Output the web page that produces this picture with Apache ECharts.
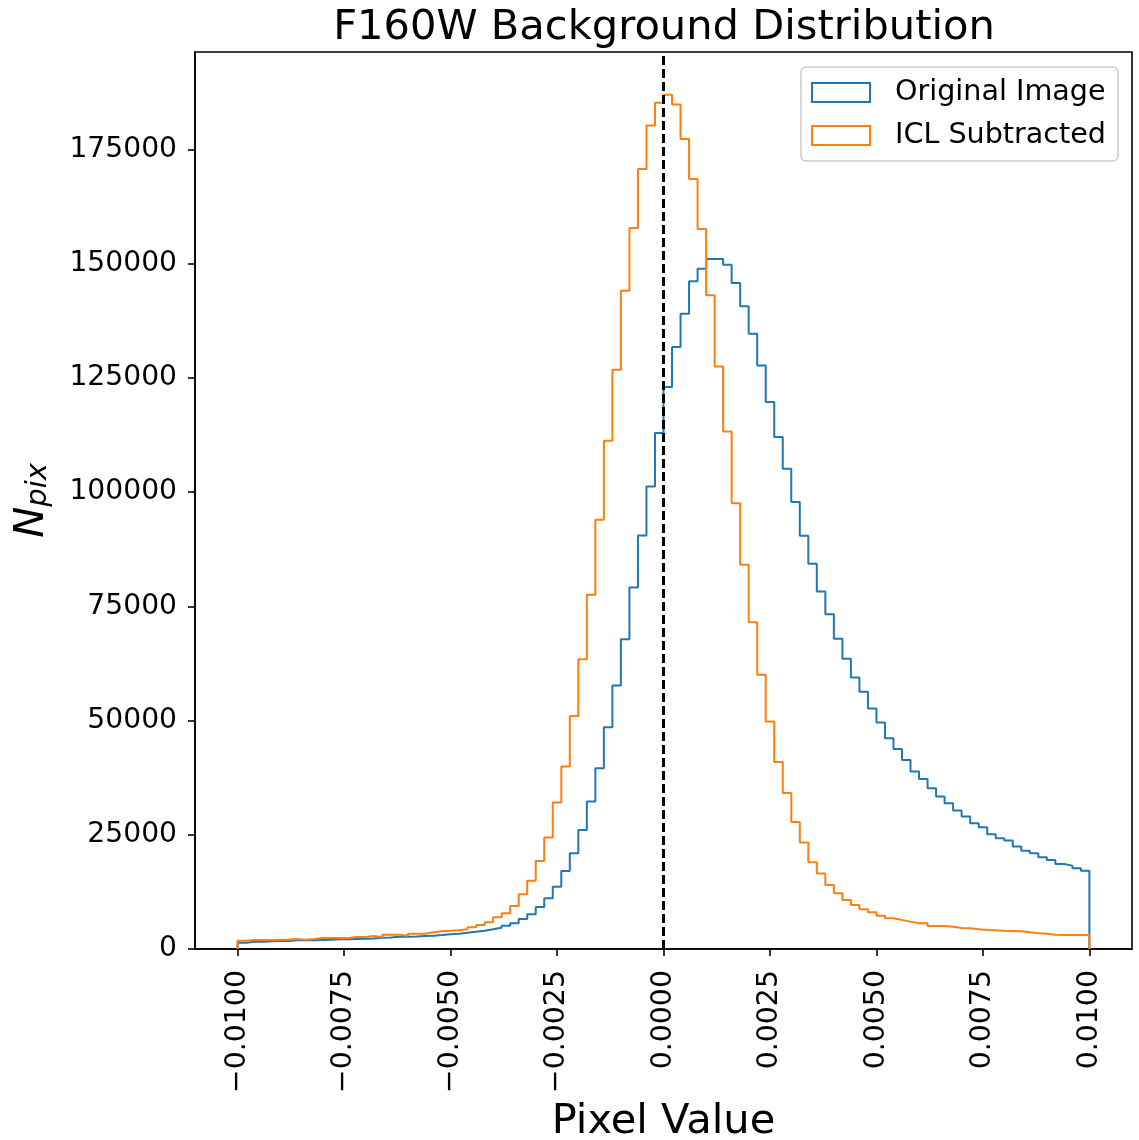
<!DOCTYPE html>
<html>
<head>
<meta charset="utf-8">
<script src="https://cdn.jsdelivr.net/npm/echarts@6/dist/echarts.min.js"></script>
<style>
  html, body { margin: 0; padding: 0; background: #ffffff; overflow: hidden; }
  #chart { width: 1139px; height: 1140px; }
</style>
</head>
<body>
<div id="chart"></div>
<script>
// Histogram binning: 100 bins of width 0.0002 spanning [-0.01, 0.01]
const binStart = -0.01;
const binWidth = 0.0002;

// Pixel counts per bin, original F160W image
const originalCounts = [
  1390, 1610, 1610, 1680, 1750, 1750, 1900, 1900, 1900, 1970,
  2000, 2120, 2120, 2200, 2260, 2300, 2480, 2500, 2700, 2700,
  2760, 2850, 2920, 3050, 3210, 3360, 3580, 3800, 4010, 4310,
  4670, 5110, 5620, 6570, 7590, 9200, 11100, 13650, 17080, 20950,
  26060, 32270, 39570, 48550, 57670, 67820, 79130, 90520, 101250, 112940,
  123010, 131780, 139070, 146150, 148930, 151050, 151050, 149800, 145790, 140680,
  134690, 127750, 119730, 112060, 105120, 97830, 90450, 84320, 78250, 73300,
  67890, 63510, 59420, 56290, 52630, 49560, 46140, 43800, 41390, 38830,
  37230, 35190, 33360, 31900, 30290, 28980, 27520, 26650, 25110, 24240,
  23730, 22410, 21530, 20950, 20080, 19490, 18620, 18250, 17670, 17150
];

// Pixel counts per bin after ICL subtraction
const iclSubtractedCounts = [
  1820, 1970, 1970, 1990, 2000, 2000, 2190, 2000, 2190, 2410,
  2410, 2410, 2410, 2630, 2630, 2850, 2630, 3140, 3140, 2920,
  3360, 3360, 3650, 3870, 4000, 4090, 4310, 4750, 5260, 5840,
  6940, 7810, 9420, 11970, 14960, 19270, 24380, 32050, 39930, 51030,
  63440, 77530, 93960, 111260, 126800, 144100, 157840, 170760, 180240, 185220,
  187000, 184840, 177330, 168570, 157620, 143080, 127530, 113300, 97600, 84100,
  71550, 60010, 49780, 40950, 34160, 27810, 23290, 18980, 16500, 14020,
  12190, 10730, 9640, 8690, 8030, 7300, 6720, 6350, 5990, 5620,
  5620, 5040, 5040, 4890, 4600, 4530, 4310, 4160, 4090, 4010,
  3940, 3870, 3650, 3430, 3360, 3140, 3070, 3070, 3070, 3070
];

const seriesNames = ['Original Image', 'ICL Subtracted'];
const xTickValues = [-0.01, -0.0075, -0.005, -0.0025, 0, 0.0025, 0.005, 0.0075, 0.01];
const yTickValues = [0, 25000, 50000, 75000, 100000, 125000, 150000, 175000];
const zeroLevel = 0;

const FONT = 'DejaVu Sans';
const BLUE = '#1f77b4';
const ORANGE = '#ff7f0e';

// Closed step outline of a histogram: rises from zero at the first edge,
// holds each count across its bin, falls to zero at the last edge.
function stepOutline(counts) {
  const pts = [[binStart, 0]];
  counts.forEach((c, i) => pts.push([binStart + i * binWidth, c]));
  pts.push([binStart + counts.length * binWidth, 0]);
  return pts;
}

const allCounts = originalCounts.concat(iclSubtractedCounts);
const yMax = Math.max(...allCounts) * 1.05;
const xPad = (binWidth * originalCounts.length) * 0.05;
const xMin = binStart - xPad;
const xMax = binStart + binWidth * originalCounts.length + xPad;

const fmtX = v => (v < 0 ? '\u2212' : '') + Math.abs(v).toFixed(4);

const chart = echarts.init(document.getElementById('chart'), null, { renderer: 'canvas' });

chart.setOption({
  animation: false,
  backgroundColor: '#ffffff',
  title: {
    text: 'F160W Background Distribution',
    left: 659,
    textAlign: 'center',
    top: 2,
    textStyle: { fontFamily: FONT, fontSize: 41.6, fontWeight: 'normal', color: '#000000' }
  },
  legend: {
    left: 801,
    top: 67,
    orient: 'vertical',
    padding: [11, 12, 11, 10],
    itemGap: 14,
    itemWidth: 58,
    itemHeight: 19,
    backgroundColor: 'rgba(255,255,255,0.8)',
    borderColor: '#cccccc',
    borderWidth: 1.5,
    borderRadius: 5,
    selectedMode: false,
    textStyle: { fontFamily: FONT, fontSize: 28.6, color: '#000000', padding: [0, 0, 0, 20] },
    data: [
      { name: seriesNames[0], icon: 'rect', itemStyle: { color: '#ffffff', borderColor: BLUE, borderWidth: 2 } },
      { name: seriesNames[1], icon: 'rect', itemStyle: { color: '#ffffff', borderColor: ORANGE, borderWidth: 2 } }
    ]
  },
  grid: {
    left: 195,
    right: 7,
    top: 52,
    bottom: 191,
    show: true,
    borderColor: '#000000',
    borderWidth: 1.6,
    containLabel: false,
    outerBoundsMode: 'none'
  },
  xAxis: {
    type: 'value',
    min: xMin,
    max: xMax,
    name: 'Pixel Value',
    nameLocation: 'middle',
    nameGap: 147,
    nameTextStyle: { fontFamily: FONT, fontSize: 41.6, color: '#000000' },
    axisLine: { show: true, onZero: false, lineStyle: { color: '#000000', width: 1.6 } },
    axisTick: { show: true, customValues: xTickValues, length: 7, lineStyle: { color: '#000000', width: 1.6 } },
    axisLabel: {
      customValues: xTickValues,
      rotate: 90,
      margin: 21,
      fontFamily: FONT,
      fontSize: 28.4,
      color: '#000000',
      formatter: fmtX
    },
    splitLine: { show: false }
  },
  yAxis: {
    type: 'value',
    min: 0,
    max: yMax,
    name: '{n|N}{s|pix}',
    nameLocation: 'middle',
    nameRotate: 90,
    nameGap: 142,
    nameTextStyle: {
      rich: {
        n: { fontFamily: FONT, fontSize: 41.6, fontStyle: 'italic', color: '#000000', verticalAlign: 'bottom' },
        s: { fontFamily: FONT, fontSize: 29, fontStyle: 'italic', color: '#000000', verticalAlign: 'bottom' }
      }
    },
    axisLine: { show: true, onZero: false, lineStyle: { color: '#000000', width: 1.6 } },
    axisTick: { show: true, customValues: yTickValues, length: 7, lineStyle: { color: '#000000', width: 1.6 } },
    axisLabel: {
      customValues: yTickValues,
      margin: 18,
      fontFamily: FONT,
      fontSize: 28.2,
      color: '#000000',
      formatter: v => String(v)
    },
    splitLine: { show: false }
  },
  series: [
    {
      name: seriesNames[0],
      type: 'line',
      step: 'end',
      data: stepOutline(originalCounts),
      showSymbol: false,
      symbol: 'none',
      color: BLUE,
      lineStyle: { color: BLUE, width: 2 },
      z: 2
    },
    {
      name: seriesNames[1],
      type: 'line',
      step: 'end',
      data: stepOutline(iclSubtractedCounts),
      showSymbol: false,
      symbol: 'none',
      color: ORANGE,
      lineStyle: { color: ORANGE, width: 2 },
      z: 3
    },
    {
      name: 'zero',
      type: 'line',
      data: [],
      z: 4,
      markLine: {
        silent: true,
        symbol: ['none', 'none'],
        label: { show: false },
        lineStyle: { color: '#000000', width: 3, type: [9, 4] },
        data: [{ xAxis: zeroLevel }]
      }
    }
  ]
});
</script>
</body>
</html>
